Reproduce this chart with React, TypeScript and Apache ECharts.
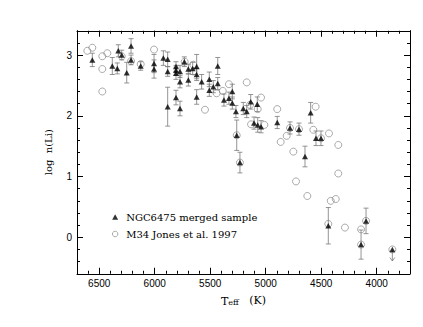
import React, { useEffect, useRef } from "react";
import * as echarts from "echarts";

// NGC6475 merged sample (filled triangles with error bars)
const TRI_T = [6562, 6382, 6337, 6328, 6297, 6252, 6213, 6213, 6126, 6006, 6006, 5922, 5883, 5883, 5883,
  5808, 5808, 5808, 5808, 5772, 5772, 5772, 5733, 5697, 5697, 5658, 5622, 5622, 5622, 5577, 5508, 5508,
  5472, 5432, 5432, 5376, 5331, 5301, 5301, 5268, 5261, 5232, 5202, 5171, 5135, 5105, 5076, 5072, 5042,
  4896, 4781, 4700, 4595, 4646, 4547, 4502, 4436, 4096, 4141];
const TRI_LI = [2.92, 2.82, 2.78, 3.07, 3.0, 2.71, 3.15, 2.92, 2.82, 2.86, 2.77, 2.95, 2.93, 2.73, 2.15,
  2.81, 2.75, 2.70, 2.30, 2.73, 2.56, 2.12, 2.89, 2.77, 2.59, 2.78, 2.81, 2.68, 2.31, 2.56, 2.60, 2.42,
  2.48, 2.82, 2.53, 2.26, 2.29, 2.40, 2.21, 2.07, 1.68, 1.23, 2.12, 2.07, 2.23, 1.88, 2.19, 1.85, 1.82,
  1.89, 1.80, 1.78, 2.05, 1.33, 1.63, 1.63, 0.19, 0.27, -0.12];
const TRI_ERR = [0.11, 0.14, 0.09, 0.10, 0.08, 0.17, 0.12, 0.08, 0.07, 0.15, 0.15, 0.12, 0.12, 0.08, 0.32,
  0.08, 0.08, 0.10, 0.12, 0.10, 0.10, 0.12, 0.08, 0.08, 0.10, 0.10, 0.20, 0.10, 0.12, 0.12, 0.12, 0.10,
  0.10, 0.14, 0.10, 0.10, 0.10, 0.12, 0.10, 0.10, 0.25, 0.17, 0.10, 0.10, 0.12, 0.10, 0.12, 0.12, 0.10,
  0.10, 0.10, 0.10, 0.17, 0.17, 0.12, 0.12, 0.30, 0.21, 0.24];

// upper limit (triangle with downward arrow)
const LIMIT_T = [3859];
const LIMIT_LI = [-0.2];

// M34, Jones et al. 1997 (open circles)
const CIRC_T = [6607, 6562, 6472, 6427, 6472, 6472, 6297, 6213, 6126, 6006, 5730, 5652, 5652, 5547, 5442,
  5387, 5331, 5171, 5141, 5072, 5042, 5261, 5232, 5132, 5012, 4896, 4865, 4811, 4781, 4751, 4700, 4571,
  4550, 4502, 4430, 4346, 4346, 4727, 4625, 4414, 4369, 4436, 4286, 4141, 4096, 4141, 3859];
const CIRC_LI = [3.07, 3.12, 2.98, 3.03, 2.77, 2.40, 2.98, 2.90, 2.85, 3.09, 2.89, 2.84, 2.73, 2.10, 2.37,
  2.41, 2.52, 2.55, 2.18, 2.11, 2.30, 1.68, 1.23, 1.86, 1.85, 2.11, 1.57, 1.67, 1.80, 1.41, 1.78, 1.77,
  2.15, 1.63, 1.71, 1.52, 1.05, 0.92, 0.68, 0.60, 0.63, 0.22, 0.16, 0.13, 0.27, -0.12, -0.20];

const X_MIN = 3700;
const X_MAX = 6700;
const Y_MIN = -0.6;
const Y_MAX = 3.4;

const NAME_TRI = "NGC6475 merged sample";
const NAME_CIRC = "M34 Jones et al. 1997";

export default function App() {
  const ref = useRef<HTMLDivElement>(null);
  useEffect(() => {
    document.body.style.margin = "0";
    const chart = echarts.init(ref.current!, null, { renderer: "svg" });
    const black = "#000";
    const grey = "#7a7a7a";
    const lbl = { fontFamily: "Liberation Sans", fontSize: 10, color: black };

    const xMinor = (pos: string) => ({
      type: "value", min: X_MIN, max: X_MAX, interval: 100, inverse: true, position: pos,
      axisLine: { show: true, onZero: false, lineStyle: { color: black, width: 1 } },
      axisTick: { show: true, inside: true, length: 3, lineStyle: { color: black, width: 1 } },
      axisLabel: { show: false }, splitLine: { show: false },
    });
    const xMajor = (pos: string, labels: boolean) => ({
      type: "value", min: X_MIN, max: X_MAX, splitNumber: 6, inverse: true, position: pos,
      axisLine: { show: false, onZero: false },
      axisTick: { show: true, inside: true, length: 6, lineStyle: { color: black, width: 1 } },
      axisLabel: {
        show: labels, margin: 5, ...lbl,
        formatter: (v: number) => (Math.abs(v % 500) < 1e-6 && v > X_MIN && v < X_MAX ? String(v) : ""),
      },
      splitLine: { show: false },
      name: labels ? "{t|T}{s|eff}   (K)" : "",
      nameLocation: "middle", nameGap: 20,
      nameTextStyle: {
        rich: {
          t: { fontFamily: "DejaVu Serif", fontSize: 11, color: black, verticalAlign: "bottom" },
          s: { fontFamily: "DejaVu Serif", fontSize: 8, color: black, verticalAlign: "top", padding: [5, 0, 0, 0] },
        },
        fontFamily: "DejaVu Serif", fontSize: 11, color: black,
      },
    });
    const yMinor = (pos: string) => ({
      type: "value", min: Y_MIN, max: Y_MAX, interval: 0.2, position: pos,
      axisLine: { show: true, onZero: false, lineStyle: { color: black, width: 1 } },
      axisTick: { show: true, inside: true, length: 3, lineStyle: { color: black, width: 1 } },
      axisLabel: { show: false }, splitLine: { show: false },
    });
    const yMajor = (pos: string, labels: boolean) => ({
      type: "value", min: Y_MIN, max: Y_MAX, splitNumber: 4, position: pos,
      axisLine: { show: false, onZero: false },
      axisTick: { show: true, inside: true, length: 6, lineStyle: { color: black, width: 1 } },
      axisLabel: {
        show: labels, margin: 5, ...lbl,
        formatter: (v: number) => (Math.abs(v - Math.round(v)) < 1e-6 ? String(Math.round(v)) : ""),
      },
      splitLine: { show: false },
      name: labels ? "log  n(Li)" : "",
      nameLocation: "middle", nameGap: 24, nameRotate: 90,
      nameTextStyle: { fontFamily: "DejaVu Serif", fontSize: 10, color: black },
    });

    const errData = TRI_T.map((t, i) => [t, TRI_LI[i] - TRI_ERR[i], TRI_LI[i] + TRI_ERR[i]]);
    const triData = TRI_T.map((t, i) => [t, TRI_LI[i]]).concat(LIMIT_T.map((t, i) => [t, LIMIT_LI[i]]));
    const circData = CIRC_T.map((t, i) => [t, CIRC_LI[i]]);
    const limData = LIMIT_T.map((t, i) => [t, LIMIT_LI[i]]);

    chart.setOption({
      animation: false,
      backgroundColor: "#fff",
      grid: { left: 77, right: 13, top: 30.75, bottom: 53.25, containLabel: false },
      xAxis: [xMinor("bottom"), xMajor("bottom", true), xMinor("top"), xMajor("top", false)],
      yAxis: [yMinor("left"), yMajor("left", true), yMinor("right"), yMajor("right", false)],
      legend: {
        data: [
          { name: NAME_TRI, itemStyle: { color: black, borderWidth: 0 } },
          { name: NAME_CIRC, itemStyle: { color: "rgba(255,255,255,0)", borderColor: grey, borderWidth: 0.8 } },
        ],
        orient: "vertical", left: 107, top: 207,
        itemWidth: 6, itemHeight: 5.5, itemGap: 7,
        textStyle: { fontFamily: "DejaVu Serif", fontSize: 10, color: black, padding: [0, 0, 0, 3] },
      },
      series: [
        {
          type: "custom", name: "err", xAxisIndex: 0, yAxisIndex: 0, z: 1,
          data: errData,
          renderItem: (_p: any, api: any) => {
            const x = api.value(0);
            const a = api.coord([x, api.value(2)]);
            const b = api.coord([x, api.value(1)]);
            const cap = 2.5;
            const st = { stroke: grey, lineWidth: 0.8 };
            return {
              type: "group",
              children: [
                { type: "line", shape: { x1: a[0], y1: a[1], x2: b[0], y2: b[1] }, style: st },
                { type: "line", shape: { x1: a[0] - cap, y1: a[1], x2: a[0] + cap, y2: a[1] }, style: st },
                { type: "line", shape: { x1: b[0] - cap, y1: b[1], x2: b[0] + cap, y2: b[1] }, style: st },
              ],
            };
          },
        },
        {
          type: "custom", name: "limit", xAxisIndex: 0, yAxisIndex: 0, z: 1,
          data: limData,
          renderItem: (_p: any, api: any) => {
            const x = api.value(0);
            const a = api.coord([x, api.value(1)]);
            const b = api.coord([x, api.value(1) - 0.19]);
            const st = { stroke: grey, lineWidth: 0.8, fill: "none" };
            return {
              type: "group",
              children: [
                { type: "line", shape: { x1: a[0], y1: a[1], x2: b[0], y2: b[1] }, style: st },
                { type: "polyline", shape: { points: [[b[0] - 2.5, b[1] - 3.5], [b[0], b[1]], [b[0] + 2.5, b[1] - 3.5]] }, style: st },
              ],
            };
          },
        },
        {
          type: "scatter", name: NAME_CIRC, xAxisIndex: 0, yAxisIndex: 0, z: 2,
          symbol: "circle", symbolSize: 7,
          itemStyle: { color: "rgba(255,255,255,0)", borderColor: grey, borderWidth: 0.8 },
          data: circData,
        },
        {
          type: "scatter", name: NAME_TRI, xAxisIndex: 0, yAxisIndex: 0, z: 3,
          symbol: "triangle", symbolSize: [6, 5.5],
          itemStyle: { color: black },
          data: triData,
        },
      ],
    });
    return () => chart.dispose();
  }, []);
  return <div ref={ref} style={{ position: "fixed", left: 0, top: 0, width: 423, height: 327, background: "#fff" }} />;
}
